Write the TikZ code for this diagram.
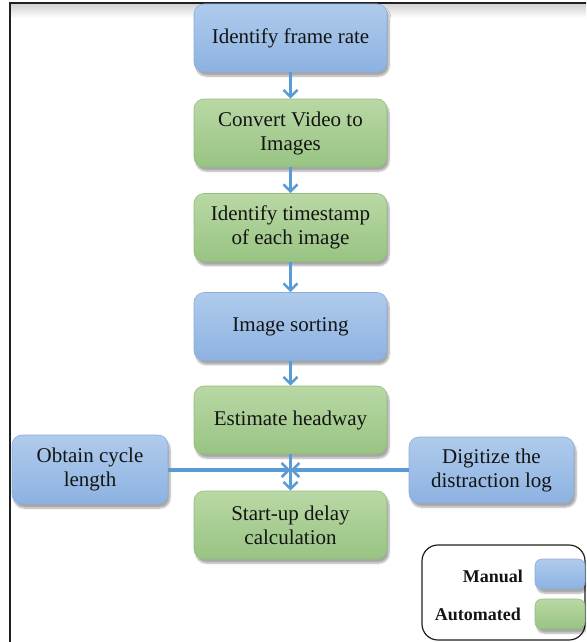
\documentclass[tikz,border=0pt]{standalone}
\usepackage{fontspec}
\setmainfont{Liberation Serif}
\usetikzlibrary{arrows.meta,shadows.blur}
\definecolor{bluetop}{HTML}{AFCBEC}
\definecolor{bluebot}{HTML}{8DB2E1}
\definecolor{blueedge}{HTML}{8CAEDA}
\definecolor{greentop}{HTML}{B9D8A4}
\definecolor{greenbot}{HTML}{98C483}
\definecolor{greenedge}{HTML}{92BD7D}
\definecolor{arrowblue}{HTML}{5B9BD5}
\definecolor{txt}{HTML}{141414}
\definecolor{framecol}{HTML}{202020}
\tikzset{
  box/.style={rounded corners=10pt, minimum width=193pt, minimum height=68pt,
    align=center, text=txt, font=\fontsize{21}{24}\selectfont, inner sep=2pt,
    blur shadow={shadow xshift=2pt, shadow yshift=-4pt, shadow blur steps=6, shadow opacity=35}},
  manual/.style={box, draw=blueedge, line width=0.6pt, top color=bluetop, bottom color=bluebot},
  auto/.style={box, draw=greenedge, line width=0.6pt, top color=greentop, bottom color=greenbot},
  flow/.style={draw=arrowblue, line width=3.2pt, -{Straight Barb[length=7pt,width=14pt,line width=2.6pt]}},
  legtxt/.style={font=\bfseries\fontsize{18}{20}\selectfont, text=txt, inner sep=0pt}
}
\begin{document}
\begin{tikzpicture}[x=1pt,y=-1pt]
\useasboundingbox (0,0) rectangle (586,642);
\begin{scope}
\clip (0,0) rectangle (586,642);
% frame
\shade[top color=black!18, bottom color=white] (11,4) rectangle (586,18);
\draw[framecol, line width=2.2pt] (10,700) -- (10,3) -- (600,3);

% main column
\node[manual] (n1) at (290.5,38) {Identify frame rate};
\node[auto]   (n2) at (290.5,133) {Convert Video to\\Images};
\node[auto]   (n3) at (290.5,227.5) {Identify timestamp\\of each image};
\node[manual] (n4) at (290.5,326.5) {Image sorting};
\node[auto]   (n5) at (290.5,420) {Estimate headway};
\node[auto]   (n6) at (290.5,525) {Start-up delay\\calculation};
\node[manual, minimum width=156pt, minimum height=69pt] (n7) at (90,469.5) {Obtain cycle\\length};
\node[manual, minimum width=165pt, minimum height=66pt] (n8) at (491.5,470) {Digitize the\\distraction log};

\coordinate (m) at (290.5,470);
\draw[flow] (n1.south) -- (n2.north);
\draw[flow] (n2.south) -- (n3.north);
\draw[flow] (n3.south) -- (n4.north);
\draw[flow] (n4.south) -- (n5.north);
\draw[flow] (n5.south) -- (n6.north);
\draw[flow] (n7.east |- m) -- (m);
\draw[flow] (n8.west |- m) -- (m);

% legend
\node[draw=framecol, line width=1.2pt, rounded corners=16pt, minimum width=163pt, minimum height=95pt, inner sep=0pt] (leg) at (503.5,592.5) {};
\node[manual, minimum width=50pt, minimum height=30pt, rounded corners=7pt] (sw1) at (560,574) {};
\node[auto, minimum width=50pt, minimum height=30pt, rounded corners=7pt] (sw2) at (560,614) {};
\node[legtxt, anchor=east] (l1) at (523,576) {Manual};
\node[legtxt, anchor=east] (l2) at (521,614) {Automated};
\end{scope}
\end{tikzpicture}
\end{document}
